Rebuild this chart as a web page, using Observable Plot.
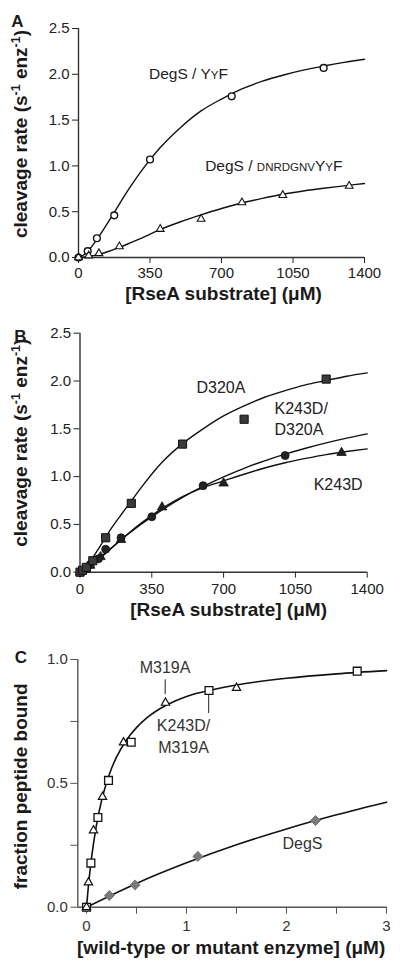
<!DOCTYPE html>
<html>
<head>
<meta charset="utf-8">
<script src="https://cdn.jsdelivr.net/npm/d3@7"></script>
<script src="https://cdn.jsdelivr.net/npm/@observablehq/plot@0.6"></script>
<style>
  html, body { margin: 0; padding: 0; background: #fff; }
  #root { position: relative; width: 400px; height: 968px; overflow: hidden; }
  .panel { position: absolute; left: 0; }
</style>
</head>
<body>
<div id="root"></div>
<script>
// ---------------- DATA ----------------
// Panel A: DegS cleavage of RseA substrates
const aYYF_x = [0, 45, 90, 175, 350, 750, 1200];
const aYYF_y = [0.0, 0.07, 0.21, 0.46, 1.07, 1.76, 2.07];
const aDNR_x = [0, 50, 100, 200, 400, 600, 800, 1000, 1325];
const aDNR_y = [0.0, 0.02, 0.045, 0.12, 0.31, 0.42, 0.60, 0.68, 0.78];
const fitX_AB = [0, 25, 50, 100, 150, 200, 250, 300, 400, 500, 600, 700, 800, 900, 1000, 1100, 1200, 1300, 1400];
const aFit_YYF = [0, 0.027, 0.08, 0.229, 0.403, 0.584, 0.759, 0.922, 1.20, 1.42, 1.60, 1.73, 1.84, 1.925, 1.99, 2.045, 2.09, 2.13, 2.165];
const aFit_DNR = [0, 0.003, 0.01, 0.034, 0.068, 0.11, 0.156, 0.204, 0.305, 0.39, 0.465, 0.535, 0.595, 0.645, 0.69, 0.726, 0.756, 0.782, 0.808];

// Panel B: mutants
const bD320A_x = [0, 12.5, 31, 62.5, 125, 250, 500, 800, 1200];
const bD320A_y = [0.0, 0.02, 0.05, 0.12, 0.36, 0.72, 1.34, 1.60, 2.02];
const bKD_x = [0, 12.5, 25, 50, 90, 125, 200, 350, 600, 1000];
const bKD_y = [0.0, 0.01, 0.03, 0.08, 0.14, 0.24, 0.36, 0.58, 0.905, 1.22];
const bK_x = [0, 25, 50, 100, 200, 400, 700, 1275];
const bK_y = [0.0, 0.03, 0.07, 0.16, 0.34, 0.68, 0.93, 1.25];
const bFit_D320A = [0, 0.044, 0.113, 0.278, 0.45, 0.60, 0.745, 0.89, 1.15, 1.345, 1.50, 1.635, 1.74, 1.83, 1.90, 1.96, 2.005, 2.05, 2.085];
const bFit_KD = [0, 0.032, 0.072, 0.16, 0.25, 0.34, 0.4235, 0.504, 0.652, 0.783, 0.897, 0.998, 1.087, 1.165, 1.235, 1.297, 1.353, 1.403, 1.447];
const bFit_K = [0, 0.023, 0.059, 0.148, 0.244, 0.339, 0.431, 0.516, 0.667, 0.791, 0.885, 0.955, 1.025, 1.09, 1.145, 1.19, 1.23, 1.262, 1.29];

// Panel C: peptide binding
const cM319A_x = [0, 0.02, 0.07, 0.16, 0.37, 0.79, 1.5];
const cM319A_y = [0.0, 0.10, 0.31, 0.445, 0.665, 0.825, 0.885];
const cKM_x = [0, 0.044, 0.114, 0.22, 0.447, 1.225, 2.707];
const cKM_y = [0.0, 0.178, 0.362, 0.512, 0.666, 0.875, 0.953];
const cDegS_x = [0, 0.228, 0.486, 1.114, 2.29];
const cDegS_y = [0.0, 0.047, 0.09, 0.205, 0.35];
const cFit1_x = [0, 0.02, 0.05, 0.1, 0.15, 0.2, 0.25, 0.3, 0.4, 0.5, 0.6, 0.8, 1.0, 1.25, 1.5, 2.0, 2.5, 3.0];
const cFit1_y = [0, 0.09, 0.198, 0.332, 0.429, 0.502, 0.56, 0.606, 0.675, 0.725, 0.763, 0.816, 0.851, 0.877, 0.897, 0.924, 0.942, 0.955];
const cFit2_x = [0, 0.5, 1, 1.5, 2, 2.5, 3];
const cFit2_y = [0, 0.096, 0.179, 0.252, 0.316, 0.373, 0.424];

// Ticks & labels
const abXTicks = [0, 350, 700, 1050, 1400];
const abYTicks = [0, 0.5, 1.0, 1.5, 2.0, 2.5];
const cXTicks = [0, 0.5, 1, 1.5, 2, 2.5, 3];
const cXLabeled = [0, 1, 2, 3];
const cYTicks = [0, 0.25, 0.5, 0.75, 1.0];
const cYLabeled = [0, 0.5, 1.0];
const abYTitle = "cleavage rate (s-1 enz-1)";
const abXTitle = "[RseA substrate] (\u03BCM)";
const cYTitle = "fraction peptide bound";
const cXTitle = "[wild-type or mutant enzyme] (\u03BCM)";

// Annotations (data coordinates)
const aLabels = [
  {text: "DegS / YYF", x: 345, y: 2.0},
  {text: "DegS / DNRDGNVYYF", x: 620, y: 1.0}
];
const bLabels = [
  {text: "D320A", x: 568, y: 1.95},
  {text: "K243D/\nD320A", x: 948, y: 1.613},
  {text: "K243D", x: 1139, y: 0.93}
];
const cLabels = [
  {text: "M319A", x: 0.785, y: 0.972, anchor: "middle"},
  {text: "K243D/\nM319A", x: 0.97, y: 0.694, anchor: "start"},
  {text: "DegS", x: 2.16, y: 0.262, anchor: "start"}
];
const cPointers = [
  {x: 0.787, y1: 0.858, y2: 0.918},
  {x: 1.222, y1: 0.782, y2: 0.855}
];
const cXMin = -0.087;

// ---------------- HELPERS ----------------
const FONT = '"Liberation Sans", Arial, Helvetica, sans-serif';
const zip = (xs, ys) => xs.map((x, i) => ({x, y: ys[i]}));
const RICH = new Map([
  ["DegS / YYF", 'DegS / Y<tspan font-size="11.5">Y</tspan>F'],
  ["DegS / DNRDGNVYYF", 'DegS / <tspan font-size="11.5">DNRDGNV</tspan>Y<tspan font-size="11.5">Y</tspan>F'],
  ["cleavage rate (s-1 enz-1)", 'cleavage rate (s<tspan dy="-7" font-size="12.5">-1</tspan><tspan dy="7"> enz</tspan><tspan dy="-7" font-size="12.5">-1</tspan><tspan dy="7">)</tspan>']
]);
function richify(svg) {
  svg.querySelectorAll("text").forEach(t => {
    if (t.children.length === 0 && RICH.has(t.textContent)) t.innerHTML = RICH.get(t.textContent);
  });
  return svg;
}
function place(svg, top) {
  const d = document.createElement("div");
  d.className = "panel";
  d.style.top = top + "px";
  d.appendChild(richify(svg));
  document.getElementById("root").appendChild(d);
}
function titleMarks(xTitle, yTitle, letter, opts) {
  return [
    Plot.text([xTitle], {text: d => d, frameAnchor: "bottom", textAnchor: "middle", lineAnchor: "middle",
      dx: opts.xdx, dy: opts.xdy, fontWeight: "bold", fontSize: 19, fill: "#1a1a1a"}),
    Plot.text([yTitle], {text: d => d, frameAnchor: "left", textAnchor: "middle", lineAnchor: "middle",
      rotate: -90, dx: opts.ydx, dy: opts.ydy, fontWeight: "bold", fontSize: 19, fill: "#1a1a1a"}),
    Plot.text([letter], {text: d => d, frameAnchor: "top-left", textAnchor: "middle", lineAnchor: "middle",
      dx: opts.ldx, dy: opts.ldy, fontWeight: "bold", fontSize: 17, fill: "#1a1a1a"})
  ];
}
// tick labels drawn as text marks positioned by the scales
function tickLabelMarks(xVals, xFmt, yVals, yFmt, opts) {
  return [
    Plot.text(xVals, {x: d => d, text: xFmt, frameAnchor: "bottom", textAnchor: "middle", lineAnchor: "middle",
      dy: opts.xdy, fontSize: 15, fill: opts.color}),
    Plot.text(yVals, {y: d => d, text: yFmt, frameAnchor: "left", textAnchor: "end", lineAnchor: "middle",
      dx: opts.ydx, fontSize: 15, fill: opts.color})
  ];
}
const blank = () => "";
const f1 = d3.format(".1f");

// ---------------- PANEL A ----------------
const plotA = Plot.plot({
  width: 400, height: 310,
  marginLeft: 78, marginRight: 36, marginTop: 28, marginBottom: 53,
  style: {fontFamily: FONT, fontSize: "15px", color: "#222", background: "#fff", overflow: "visible"},
  x: {domain: [0, 1400], ticks: abXTicks, tickFormat: blank, tickSize: 6, label: null},
  y: {domain: [0, 2.5], ticks: abYTicks, tickFormat: blank, tickSize: 6, label: null},
  marks: [
    Plot.ruleY([0], {stroke: "#333", strokeWidth: 1.4}),
    Plot.ruleX([0], {stroke: "#333", strokeWidth: 1.4}),
    Plot.line(zip(fitX_AB, aFit_YYF), {x: "x", y: "y", curve: "monotone-x", stroke: "#111", strokeWidth: 1.4}),
    Plot.line(zip(fitX_AB, aFit_DNR), {x: "x", y: "y", curve: "monotone-x", stroke: "#111", strokeWidth: 1.4}),
    Plot.dot(zip(aYYF_x, aYYF_y), {x: "x", y: "y", symbol: "circle", r: 3.4, stroke: "#111", fill: "#fff", strokeWidth: 1.4}),
    Plot.dot(zip(aDNR_x, aDNR_y), {x: "x", y: "y", symbol: "triangle", r: 2.9, stroke: "#111", fill: "#fff", strokeWidth: 1.1}),
    Plot.text(aLabels, {x: "x", y: "y", text: "text", textAnchor: "start", lineAnchor: "middle", fontSize: 15.5, fill: "#222"}),
    ...tickLabelMarks(abXTicks, d => String(d), abYTicks, f1, {xdy: 16, ydx: -9, color: "#222"}),
    ...titleMarks(abXTitle, abYTitle, "A", {xdx: 2, xdy: 36, ydx: -58, ydy: -9, ldx: -61, ldy: -6.5})
  ]
});
place(plotA, 0);

// ---------------- PANEL B ----------------
const plotB = Plot.plot({
  width: 400, height: 310,
  marginLeft: 79.5, marginRight: 33.3, marginTop: 22.7, marginBottom: 48.3,
  style: {fontFamily: FONT, fontSize: "15px", color: "#222", background: "#fff", overflow: "visible"},
  x: {domain: [0, 1400], ticks: abXTicks, tickFormat: blank, tickSize: 6, label: null},
  y: {domain: [0, 2.5], ticks: abYTicks, tickFormat: blank, tickSize: 6, label: null},
  marks: [
    Plot.ruleY([0], {stroke: "#333", strokeWidth: 1.4}),
    Plot.ruleX([0], {stroke: "#333", strokeWidth: 1.4}),
    Plot.line(zip(fitX_AB, bFit_D320A), {x: "x", y: "y", curve: "monotone-x", stroke: "#111", strokeWidth: 1.4}),
    Plot.line(zip(fitX_AB, bFit_KD), {x: "x", y: "y", curve: "monotone-x", stroke: "#111", strokeWidth: 1.4}),
    Plot.line(zip(fitX_AB, bFit_K), {x: "x", y: "y", curve: "monotone-x", stroke: "#111", strokeWidth: 1.4}),
    Plot.dot(zip(bK_x, bK_y), {x: "x", y: "y", symbol: "triangle", r: 3.5, stroke: "#111", fill: "#222", strokeWidth: 0.8}),
    Plot.dot(zip(bKD_x, bKD_y), {x: "x", y: "y", symbol: "circle", r: 4, stroke: "#111", fill: "#222", strokeWidth: 0.8}),
    Plot.dot(zip(bD320A_x, bD320A_y), {x: "x", y: "y", symbol: "square", r: 4.6, stroke: "#111", fill: "#3a3a3a", strokeWidth: 1}),
    Plot.text(bLabels, {x: "x", y: "y", text: "text", textAnchor: "start", lineAnchor: "middle", lineHeight: 1.33, fontSize: 16, fill: "#222"}),
    ...tickLabelMarks(abXTicks, d => String(d), abYTicks, f1, {xdy: 16.5, ydx: -9, color: "#222"}),
    ...titleMarks(abXTitle, abYTitle, "B", {xdx: 5, xdy: 38, ydx: -59.5, ydy: -10, ldx: -59.5, ldy: 3})
  ]
});
place(plotB, 310);

// ---------------- PANEL C ----------------
const plotC = Plot.plot({
  width: 400, height: 348,
  marginLeft: 77.3, marginRight: 14, marginTop: 39, marginBottom: 61.3,
  style: {fontFamily: FONT, fontSize: "15px", color: "#555", background: "#fff", overflow: "visible"},
  x: {domain: [cXMin, 3], ticks: cXTicks, tickFormat: blank, tickSize: 7, label: null},
  y: {domain: [0, 1], ticks: cYTicks, tickFormat: blank, tickSize: 7, label: null},
  marks: [
    Plot.ruleY([0], {stroke: "#555", strokeWidth: 1.4}),
    Plot.ruleX([cXMin], {stroke: "#555", strokeWidth: 1.4}),
    Plot.line(zip(cFit2_x, cFit2_y), {x: "x", y: "y", curve: "monotone-x", stroke: "#111", strokeWidth: 1.6}),
    Plot.line(zip(cFit1_x, cFit1_y), {x: "x", y: "y", curve: "monotone-x", stroke: "#111", strokeWidth: 1.6}),
    Plot.dot(zip(cDegS_x, cDegS_y), {x: "x", y: "y", symbol: "diamond2", r: 4.5, stroke: "#777", fill: "#7a7a7a", strokeWidth: 1}),
    Plot.dot(zip(cKM_x, cKM_y), {x: "x", y: "y", symbol: "square", r: 4.4, stroke: "#111", fill: "#fff", strokeWidth: 1.3}),
    Plot.dot(zip(cM319A_x, cM319A_y), {x: "x", y: "y", symbol: "triangle", r: 3.1, stroke: "#111", fill: "#fff", strokeWidth: 1.2}),
    Plot.ruleX(cPointers, {x: "x", y1: "y1", y2: "y2", stroke: "#222", strokeWidth: 1}),
    Plot.text(cLabels, {x: "x", y: "y", text: "text", textAnchor: d => d.anchor, lineAnchor: "middle", lineHeight: 1.375, fontSize: 16, fill: "#333"}),
    ...tickLabelMarks(cXLabeled, d => String(d), cYLabeled, f1, {xdy: 18.5, ydx: -10, color: "#333"}),
    ...titleMarks(cXTitle, cYTitle, "C", {xdx: -1, xdy: 41, ydx: -57, ydy: 3, ldx: -57, ldy: -2})
  ]
});
place(plotC, 620);
</script>
</body>
</html>
